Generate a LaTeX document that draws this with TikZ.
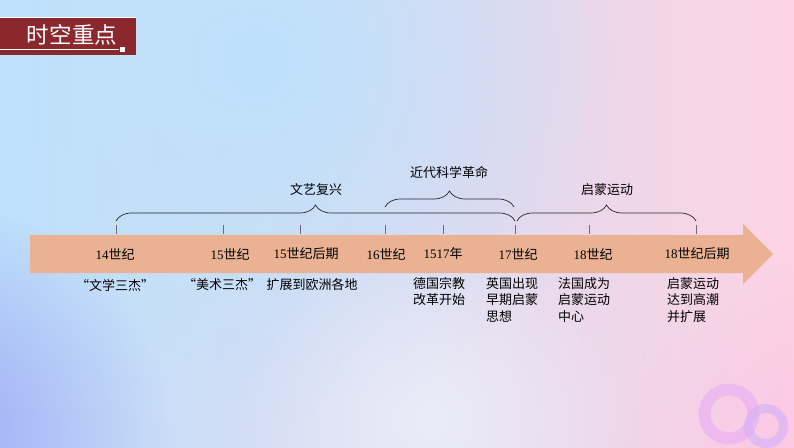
\documentclass[tikz,border=0pt]{standalone}
\usepackage{fontspec}
\setmainfont{Liberation Serif}
\newfontfamily\cjk{Noto Sans CJK SC}
\usetikzlibrary{decorations.pathreplacing,fadings}
\tikzfading[name=myfade, inner color=transparent!0, outer color=transparent!100]
\definecolor{bgblue}{RGB}{190,225,252}
\definecolor{bgmid}{RGB}{240,244,253}
\definecolor{bgpink}{RGB}{252,212,228}
\definecolor{bgpurple}{RGB}{160,166,244}
\definecolor{titlered}{RGB}{139,40,46}
\definecolor{arrowcol}{RGB}{234,178,146}
\definecolor{tickgray}{RGB}{110,110,110}
\definecolor{ringcol}{RGB}{232,172,246}
\definecolor{ringcolb}{RGB}{214,178,248}
\tikzset{
  yr/.style={font=\fontsize{13}{15}\selectfont, text=black, inner sep=0pt},
  lbl/.style={font=\cjk\fontsize{13}{16.5}\selectfont, text=black, inner sep=0pt},
  tickline/.style={draw=tickgray, line width=0.8pt},
  bracestyle/.style={draw=black!85, line width=0.7pt, decorate, decoration={brace, amplitude=16pt, aspect=0.5}},
}
\newcommand{\yrs}[2]{#1{\cjk #2}}
\begin{document}
\begin{tikzpicture}[x=1pt,y=-1pt]
\useasboundingbox (0,0) rectangle (794,447);
% background
\shade[left color=bgblue, middle color=bgmid, right color=bgpink] (0,0) rectangle (794,447);
\begin{scope}
\clip (0,0) rectangle (794,447);
\fill[bgblue, path fading=myfade] (260,60) circle (360);
\fill[bgpurple, path fading=myfade] (-70,440) circle (240);
\fill[bgmid, opacity=0.7, path fading=myfade] (430,420) circle (200);
\fill[bgpink!85!magenta, opacity=0.45, path fading=myfade] (840,470) circle (230);
\end{scope}
% title bar
\fill[titlered] (0,17) rectangle (136,55);
\draw[white, line width=0.8pt] (0,17.5) -- (136,17.5);
\draw[white, line width=0.8pt] (0,49.5) -- (119,49.5);
\fill[white] (120,47) rectangle (125,52);
\node[font=\cjk\fontsize{22.5}{24}\selectfont, text=white, inner sep=0pt] (title) at (72,35) {时空重点};
% arrow
\fill[arrowcol] (30,235) -- (743,235) -- (743,224) -- (773,254) -- (743,284) -- (743,273) -- (30,273) -- cycle;
% ticks
\foreach \n/\x in {a/116,b/223,c/300,d/385,e/443,f/515,g/589,h/696}{
  \coordinate (t\n) at (\x,225);
  \coordinate (b\n) at (\x,234);
  \draw[tickline] (t\n) -- (b\n);
}
% braces
\coordinate (r1) at (116,221);
\coordinate (r2) at (515,221);
\draw[bracestyle] (r1) -- (r2);
\node[lbl] (wy) at (316,190) {文艺复兴};
\coordinate (k1) at (385,207);
\coordinate (k2) at (514,207);
\draw[bracestyle] (k1) -- (k2);
\node[lbl] (kx) at (449,172) {近代科学革命};
\coordinate (q1) at (517,221);
\coordinate (q2) at (696,221);
\draw[bracestyle] (q1) -- (q2);
\node[lbl] (qm) at (607,190) {启蒙运动};
% labels on arrow
\node[yr] (y14) at (115,254) {\yrs{14}{世纪}};
\node[yr] (y15) at (230,254) {\yrs{15}{世纪}};
\node[yr] (y15h) at (306,254) {\yrs{15}{世纪后期}};
\node[yr] (y16) at (386,254) {\yrs{16}{世纪}};
\node[yr] (y1517) at (443,254) {\yrs{1517}{年}};
\node[yr] (y17) at (518,254) {\yrs{17}{世纪}};
\node[yr] (y18) at (593,254) {\yrs{18}{世纪}};
\node[yr] (y18h) at (697,254) {\yrs{18}{世纪后期}};
% labels below
\node[lbl] (l1) at (115,285) {“文学三杰”};
\node[lbl] (l2) at (222,285) {“美术三杰”};
\node[lbl] (l3) at (312,285) {扩展到欧洲各地};
\node[lbl, anchor=north west, align=left] (l4) at (413,277) {德国宗教\\改革开始};
\node[lbl, anchor=north west, align=left] (l5) at (486,277) {英国出现\\早期启蒙\\思想};
\node[lbl, anchor=north west, align=left] (l6) at (558,277) {法国成为\\启蒙运动\\中心};
\node[lbl, anchor=north west, align=left] (l7) at (667,277) {启蒙运动\\达到高潮\\并扩展};
% rings
\draw[ringcol, opacity=0.6, line width=12pt] (729,414) circle (24.5);
\draw[ringcolb, opacity=0.65, line width=9pt] (766,426) circle (17.5);
\end{tikzpicture}
\end{document}
